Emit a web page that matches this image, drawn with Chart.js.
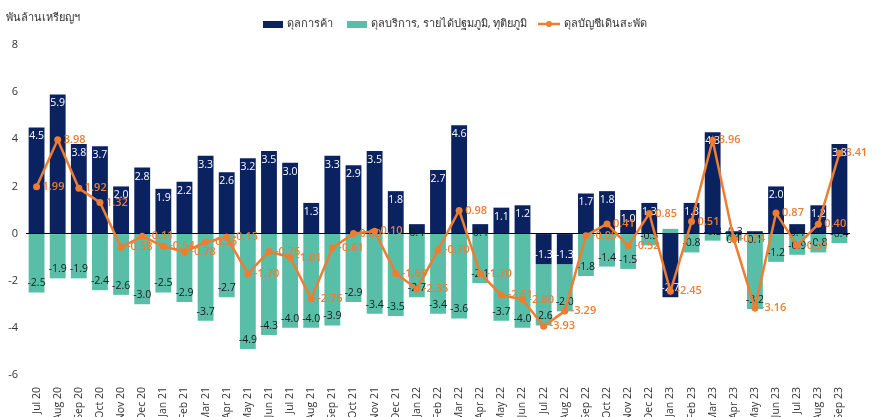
<!DOCTYPE html>
<html>
<head>
<meta charset="utf-8">
<script src="https://cdn.jsdelivr.net/npm/chart.js@4"></script>
<style>
  html, body { margin: 0; padding: 0; background: #fff; }
  #wrap { position: relative; width: 882px; height: 417px; }
</style>
</head>
<body>
<div id="wrap"><canvas id="c" width="882" height="417"></canvas></div>
<script>
// Thailand balance of payments, billion USD (monthly)
var months = ['Jul 20', 'Aug 20', 'Sep 20', 'Oct 20', 'Nov 20', 'Dec 20',
  'Jan 21', 'Feb 21', 'Mar 21', 'Apr 21', 'May 21', 'Jun 21', 'Jul 21', 'Aug 21', 'Sep 21', 'Oct 21', 'Nov 21', 'Dec 21',
  'Jan 22', 'Feb 22', 'Mar 22', 'Apr 22', 'May 22', 'Jun 22', 'Jul 22', 'Aug 22', 'Sep 22', 'Oct 22', 'Nov 22', 'Dec 22',
  'Jan 23', 'Feb 23', 'Mar 23', 'Apr 23', 'May 23', 'Jun 23', 'Jul 23', 'Aug 23', 'Sep 23'];

var tradeBalance = [4.5, 5.9, 3.8, 3.7, 2.0, 2.8,
  1.9, 2.2, 3.3, 2.6, 3.2, 3.5, 3.0, 1.3, 3.3, 2.9, 3.5, 1.8,
  0.4, 2.7, 4.6, 0.4, 1.1, 1.2, -1.3, -1.3, 1.7, 1.8, 1.0, 1.3,
  -2.7, 1.3, 4.3, 0.1, 0.1, 2.0, 0.4, 1.2, 3.8];

var servicesIncome = [-2.5, -1.9, -1.9, -2.4, -2.6, -3.0,
  -2.5, -2.9, -3.7, -2.7, -4.9, -4.3, -4.0, -4.0, -3.9, -2.9, -3.4, -3.5,
  -2.7, -3.4, -3.6, -2.1, -3.7, -4.0, -2.6, -2.0, -1.8, -1.4, -1.5, -0.5,
  0.2, -0.8, -0.3, -0.3, -3.2, -1.2, -0.9, -0.8, -0.4];

var currentAccount = [1.99, 3.98, 1.92, 1.32, -0.58, -0.11,
  -0.54, -0.78, -0.36, -0.15, -1.70, -0.76, -1.01, -2.76, -0.61, 0.00, 0.10, -1.69,
  -2.35, -0.70, 0.98, -1.70, -2.61, -2.80, -3.93, -3.29, -0.09, 0.41, -0.52, 0.85,
  -2.45, 0.51, 3.96, -0.24, -3.16, 0.87, -0.51, 0.40, 3.41];

var yTicks = [8, 6, 4, 2, 0, -2, -4, -6];

var seriesNames = ['ดุลการค้า', 'ดุลบริการ, รายได้ปฐมภูมิ, ทุติยภูมิ', 'ดุลบัญชีเดินสะพัด'];
var unitLabel = 'พันล้านเหรียญฯ';

var NAVY = '#0b2260';
var TEAL = '#58bea8';
var ORANGE = '#ee7d31';
var FONT = '"Open Sans", "Noto Sans", "DejaVu Sans", sans-serif';

// value labels drawn right after each dataset so the line sits on top of bar labels
var valueLabels = {
  id: 'valueLabels',
  afterDatasetDraw: function (chart, args) {
    var ctx = chart.ctx;
    var i = args.index;
    var meta = args.meta;
    var data = chart.data.datasets[i].data;
    ctx.save();
    ctx.textBaseline = 'middle';
    meta.data.forEach(function (el, k) {
      var v = data[k];
      if (i === 2) {
        ctx.font = '600 11px ' + FONT;
        ctx.fillStyle = ORANGE;
        ctx.textAlign = 'left';
        ctx.fillText(v.toFixed(2), el.x + 6, el.y);
      } else {
        ctx.font = '10.5px ' + FONT;
        ctx.textAlign = 'center';
        ctx.fillStyle = i === 0 ? '#ffffff' : '#1a1a1a';
        if (i === 0 && Math.abs(v) < 0.5) ctx.fillStyle = '#1a1a1a';
        var y = v >= 0 ? el.y + 9 : el.y - 9;
        ctx.fillText(v.toFixed(1), el.x, y);
      }
    });
    ctx.restore();
  }
};

// unit label + legend along the top
var header = {
  id: 'header',
  afterDraw: function (chart) {
    var ctx = chart.ctx;
    ctx.save();
    ctx.font = '11px ' + FONT;
    ctx.fillStyle = '#333';
    ctx.textBaseline = 'middle';
    ctx.textAlign = 'left';
    ctx.fillText(unitLabel, 6, 18);

    var y = 24;
    var x = 263;
    ctx.fillStyle = NAVY;
    ctx.fillRect(x, y - 3, 20, 7);
    ctx.fillStyle = '#333';
    ctx.fillText(seriesNames[0], x + 24, y);

    x = 347;
    ctx.fillStyle = TEAL;
    ctx.fillRect(x, y - 3, 20, 7);
    ctx.fillStyle = '#333';
    ctx.fillText(seriesNames[1], x + 24, y);

    x = 538;
    ctx.strokeStyle = ORANGE;
    ctx.lineWidth = 2.5;
    ctx.beginPath();
    ctx.moveTo(x, y);
    ctx.lineTo(x + 22, y);
    ctx.stroke();
    ctx.fillStyle = ORANGE;
    ctx.beginPath();
    ctx.arc(x + 11, y, 3, 0, Math.PI * 2);
    ctx.fill();
    ctx.fillStyle = '#333';
    ctx.fillText(seriesNames[2], x + 26, y);
    ctx.restore();
  }
};

new Chart(document.getElementById('c'), {
  type: 'bar',
  data: {
    labels: months,
    datasets: [
      {
        label: seriesNames[0],
        data: tradeBalance,
        backgroundColor: NAVY,
        borderColor: 'rgba(255,255,255,0.6)',
        borderWidth: 0,
        stack: 's',
        order: 1,
        barPercentage: 0.75,
        categoryPercentage: 1
      },
      {
        label: seriesNames[1],
        data: servicesIncome,
        backgroundColor: TEAL,
        borderWidth: 0,
        stack: 's',
        order: 1,
        barPercentage: 0.75,
        categoryPercentage: 1
      },
      {
        type: 'line',
        label: seriesNames[2],
        data: currentAccount,
        borderColor: ORANGE,
        backgroundColor: ORANGE,
        borderWidth: 2.5,
        pointRadius: 3.5,
        pointBackgroundColor: ORANGE,
        pointBorderWidth: 0,
        tension: 0,
        order: 0
      }
    ]
  },
  options: {
    responsive: false,
    animation: false,
    devicePixelRatio: 1,
    layout: { padding: { top: 45, right: 32, left: 0, bottom: 0 } },
    plugins: {
      legend: { display: false },
      tooltip: { enabled: false }
    },
    scales: {
      x: {
        stacked: true,
        offset: true,
        border: { display: false },
        grid: { display: false },
        ticks: {
          autoSkip: false,
          minRotation: 90,
          maxRotation: 90,
          padding: 4,
          color: '#333',
          font: { family: FONT, size: 10.5 }
        },
        afterFit: function (s) { s.height = 42; }
      },
      y: {
        stacked: true,
        min: -6,
        max: 8,
        border: { display: false },
        grid: {
          drawTicks: false,
          color: function (c) { return c.tick && c.tick.value === 0 ? '#000' : 'rgba(0,0,0,0)'; },
          lineWidth: 1
        },
        afterBuildTicks: function (s) {
          s.ticks = yTicks.map(function (v) { return { value: v }; });
        },
        ticks: {
          color: '#333',
          padding: 8,
          font: { family: FONT, size: 11 },
          callback: function (v) { return v; }
        },
        afterFit: function (s) { s.width = 26; }
      }
    }
  },
  plugins: [valueLabels, header]
});
</script>
</body>
</html>
